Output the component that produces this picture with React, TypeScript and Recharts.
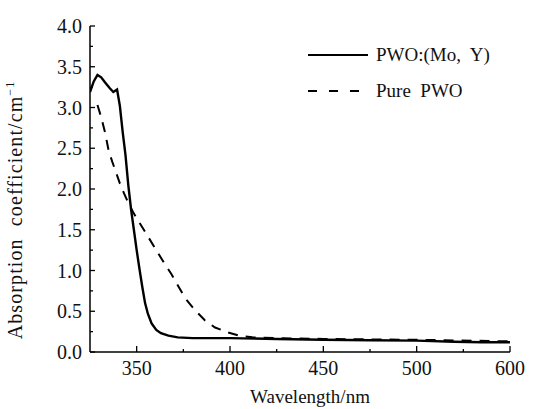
import { Label, Legend, Line, LineChart, XAxis, YAxis } from "recharts";

// PWO:(Mo, Y) – solid curve
const dopedWavelength = [
  325, 327, 329, 331, 333, 335.5, 337.5, 339.5, 341, 342.5, 344, 345.5, 347, 348.5,
  350, 351.5, 353, 354.5, 356, 358, 360.5, 363, 367, 372, 380, 400, 425, 450, 475,
  500, 520, 535, 550,
];
const dopedAbsorption = [
  3.19, 3.32, 3.4, 3.37, 3.31, 3.24, 3.19, 3.22, 3.02, 2.7, 2.42, 2.05, 1.75, 1.5,
  1.25, 1.02, 0.8, 0.6, 0.47, 0.35, 0.27, 0.23, 0.2, 0.18, 0.17, 0.17, 0.16, 0.15,
  0.145, 0.14, 0.125, 0.12, 0.12,
];

// Pure PWO – dashed curve
const pureWavelength = [
  329, 331, 333, 335, 337, 339, 341, 343, 345.5, 348, 350, 353, 356.5, 360.5, 364.5,
  368.5, 372, 376, 381, 386.5, 392, 399, 405, 412, 425, 450, 500, 550,
];
const pureAbsorption = [
  3.03, 2.88, 2.7, 2.47, 2.33, 2.2, 2.07, 1.96, 1.83, 1.72, 1.64, 1.53, 1.4, 1.25,
  1.1, 0.96, 0.82, 0.66, 0.52, 0.39, 0.3, 0.24, 0.2, 0.18, 0.17, 0.16, 0.15, 0.13,
];

const xTicks = [350, 375, 400, 425, 450, 475, 500, 525, 550];
const xTickLabels: Record<number, string> = {
  350: "350",
  400: "400",
  450: "450",
  500: "500",
  550: "600",
};
const yTicks = [0, 0.25, 0.5, 0.75, 1, 1.25, 1.5, 1.75, 2, 2.25, 2.5, 2.75, 3, 3.25, 3.5, 3.75, 4];
const yTickLabels = ["0.0", "0.5", "1.0", "1.5", "2.0", "2.5", "3.0", "3.5", "4.0"];

const doped = dopedWavelength.map((wl, i) => ({ wl, a: dopedAbsorption[i] }));
const pure = pureWavelength.map((wl, i) => ({ wl, a: pureAbsorption[i] }));

const series = [
  { name: "PWO:(Mo,  Y)", data: doped, dash: undefined, width: 2.4, legendDash: undefined },
  { name: "Pure  PWO", data: pure, dash: "10 8", width: 2, legendDash: "9 12" },
];

const FONT = "'Liberation Serif', 'Times New Roman', serif";

function XTick(props: any) {
  const { x, y, payload } = props;
  const label = xTickLabels[payload.value];
  return (
    <g>
      <line x1={x} x2={x} y1={y} y2={y - (label ? 6 : 3)} stroke="#000" strokeWidth={1.3} />
      {label && (
        <text x={x} y={y + 23} textAnchor="middle" fontFamily={FONT} fontSize={20} fill="#111">
          {label}
        </text>
      )}
    </g>
  );
}

function YTick(props: any) {
  const { x, y, payload, index } = props;
  const major = index % 2 === 0;
  return (
    <g>
      <line x1={x} x2={x + (major ? 5 : 3)} y1={y} y2={y} stroke="#000" strokeWidth={1.3} />
      {major && (
        <text x={x - 8} y={y + 7} textAnchor="end" fontFamily={FONT} fontSize={20} fill="#111">
          {yTickLabels[index / 2] ?? payload.value}
        </text>
      )}
    </g>
  );
}

function LegendBox() {
  return (
    <div style={{ fontFamily: FONT, fontSize: 19, color: "#111" }}>
      {series.map((s) => (
        <div key={s.name} style={{ display: "flex", alignItems: "center", height: 36 }}>
          <svg width={60} height={10} style={{ marginRight: 8 }}>
            <line x1={0} x2={60} y1={5} y2={5} stroke="#000" strokeWidth={2} strokeDasharray={s.legendDash} />
          </svg>
          <span style={{ whiteSpace: "pre" }}>{s.name}</span>
        </div>
      ))}
    </div>
  );
}

export default function App() {
  return (
    <div style={{ position: "absolute", left: 0, top: 0, background: "#fff" }}>
      <LineChart width={544} height={409} margin={{ top: 26, right: 34, left: 40, bottom: 0 }}>
        <XAxis
          dataKey="wl"
          type="number"
          domain={[325, 550]}
          ticks={xTicks}
          interval={0}
          height={57}
          tickSize={0}
          tickMargin={0}
          tick={<XTick />}
          axisLine={{ stroke: "#000", strokeWidth: 1.5 }}
          tickLine={false}
          allowDataOverflow
        >
          <Label
            content={(p: any) => {
              const vb = p.viewBox;
              return (
                <text x={vb.x + vb.width / 2 + 10} y={403} textAnchor="middle" fontFamily={FONT} fontSize={19} fill="#111">
                  Wavelength/nm
                </text>
              );
            }}
          />
        </XAxis>
        <YAxis
          type="number"
          domain={[0, 4]}
          ticks={yTicks}
          interval={0}
          width={50}
          tickSize={0}
          tickMargin={0}
          tick={<YTick />}
          axisLine={{ stroke: "#000", strokeWidth: 1.5 }}
          tickLine={false}
        >
          <Label
            content={() => (
              <text
                transform="translate(22, 210) rotate(-90)"
                textAnchor="middle"
                fontFamily={FONT}
                fontSize={20}
                letterSpacing={1.1}
                fill="#111"
                style={{ whiteSpace: "pre" }}
              >
                <tspan>Absorption  coefficient/cm</tspan>
                <tspan fontSize={12} dy={-8}>−1</tspan>
              </text>
            )}
          />
        </YAxis>
        <Legend
          layout="vertical"
          align="center"
          verticalAlign="middle"
          content={<LegendBox />}
          wrapperStyle={{ left: 308, top: 37, width: 220 }}
        />
        {series.map((s) => (
          <Line
            key={s.name}
            data={s.data}
            dataKey="a"
            name={s.name}
            type="linear"
            stroke="#000"
            strokeWidth={s.width}
            strokeDasharray={s.dash}
            dot={false}
            activeDot={false}
            isAnimationActive={false}
          />
        ))}
      </LineChart>
    </div>
  );
}
